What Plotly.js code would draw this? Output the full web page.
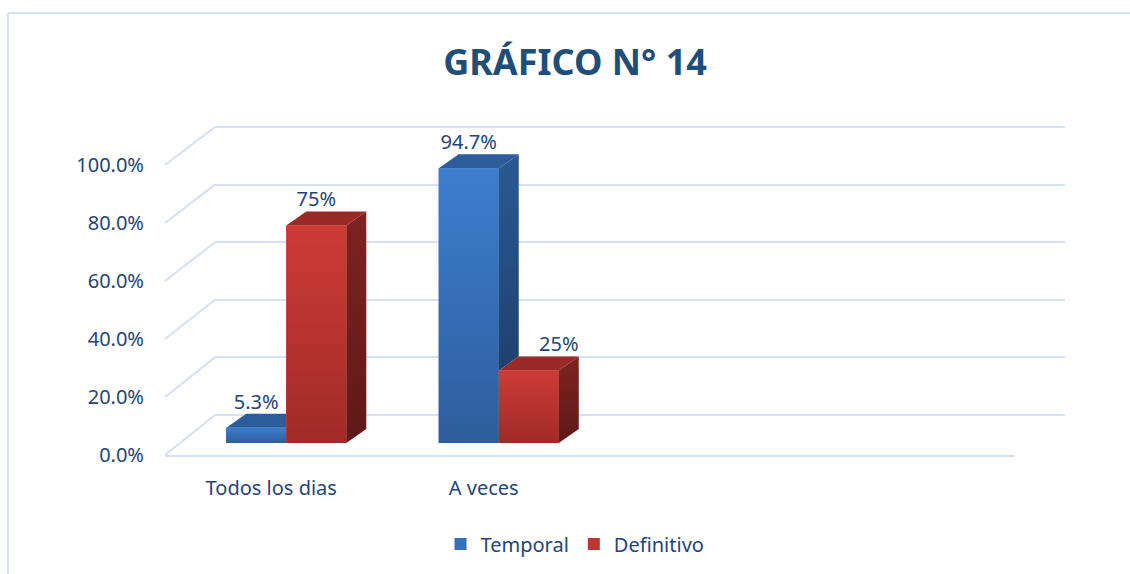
<!DOCTYPE html>
<html><head><meta charset="utf-8">
<script src="https://cdn.plot.ly/plotly-3.0.1.min.js"></script>
<style>html,body{margin:0;padding:0;background:#fff;}#chart{width:1130px;height:574px;}</style>
</head><body><div id="chart"></div>
<script>
// ---- data ----
const categories = ["Todos los dias", "A veces"];
const seriesNames = ["Temporal", "Definitivo"];
const temporal = [5.3, 94.7];
const definitivo = [75, 25];
const temporalLabels = ["5.3%", "94.7%"];
const definitivoLabels = ["75%", "25%"];
const yTickVals = [0, 20, 40, 60, 80, 100];
const yTickText = ["0.0%", "20.0%", "40.0%", "60.0%", "80.0%", "100.0%"];

// ---- geometry / style ----
const W = 1130, H = 574;
const fx = p => p / W, fy = p => (H - p) / H;
const FRONT = {x0: 165, x1: 1015, y0: 455, y100: 165};
const BACK = {x0: 215, x1: 1065, y0: 415, y100: 127};
const BAR = {xshift: 15, y0: 443, pxPerUnit: 2.9, yMax: 112};
const nSlots = 4;
const slotPx = (FRONT.x1 - FRONT.x0) / nSlots;
const barGap = 0.435;
const halfW = (1 - barGap) / 2;           // one bar width in x-units
const dX = 20 / slotPx;                   // depth offset in x-units
const dY = 14 / BAR.pxPerUnit;            // depth offset in y-units
const gridCol = "#D5E0F0";
const txtCol = "#24457A";
const blue = {front: "#3670B9", fTop: "#3D7ECF", fBot: "#2E5D9C", side: "#244C7E", sTop: "#2A5A93", sBot: "#1F416E", top: "#2C5D9A"};
const red = {front: "#BC3531", fTop: "#CE3B36", fBot: "#A02B28", side: "#6F1E1D", sTop: "#7E2321", sBot: "#5E1918", top: "#992A27"};
const font = "Noto Sans, Open Sans, sans-serif";

const traces = [];
const xs = categories.map((c, i) => i);

// dummy traces so the front-plane and back-wall subplots are drawn (back wall first = lowest)
traces.push({type: "scatter", mode: "lines", x: [-0.5, nSlots - 0.5], y: [0, 0], xaxis: "x", yaxis: "y",
  line: {width: 0}, showlegend: false, hoverinfo: "skip"});
traces.push({type: "scatter", mode: "lines", x: [0, 1], y: [0, 0], xaxis: "x2", yaxis: "y2",
  line: {width: 0}, showlegend: false, hoverinfo: "skip"});

// front faces (bars)
traces.push({type: "bar", name: seriesNames[0], x: xs, y: temporal, xaxis: "x3", yaxis: "y3",
  marker: {color: blue.front}, hoverinfo: "skip"});
traces.push({type: "bar", name: seriesNames[1], x: xs, y: definitivo, xaxis: "x3", yaxis: "y3",
  marker: {color: red.front}, hoverinfo: "skip"});

function poly(px, py, color, grad) {
  const t = {type: "scatter", mode: "lines", x: px.concat([px[0]]), y: py.concat([py[0]]),
    fill: "toself", fillcolor: color, line: {width: 0, color: color},
    xaxis: "x3", yaxis: "y3", showlegend: false, hoverinfo: "skip"};
  if (grad) t.fillgradient = {type: "vertical", colorscale: [[0, grad[0]], [1, grad[1]]]};
  traces.push(t);
}
xs.forEach(i => {
  const vb = temporal[i], vr = definitivo[i];
  const c = i;
  // blue side face (only the part not hidden by the red bar)
  if (vb > vr) {
    poly([c, c + dX, c + dX, c], [vr, vr + dY, vb + dY, vb], blue.side, [blue.sBot, blue.sTop]);
  }
  // blue top face (clipped at red front if red is taller)
  const rightX = vb > vr ? c + dX : c;
  poly([c - halfW, c - halfW + dX, rightX, c], [vb, vb + dY, vb + dY, vb], blue.top);
  // blue front with gradient
  poly([c - halfW, c, c, c - halfW], [0, 0, vb, vb], blue.front, [blue.fBot, blue.fTop]);
  // red side face
  poly([c + halfW, c + halfW + dX, c + halfW + dX, c + halfW], [0, dY, vr + dY, vr], red.side, [red.sBot, red.sTop]);
  // red top face
  poly([c, c + dX, c + halfW + dX, c + halfW], [vr, vr + dY, vr + dY, vr], red.top);
  // red front with gradient
  poly([c, c + halfW, c + halfW, c], [0, 0, vr, vr], red.front, [red.fBot, red.fTop]);
});

// data labels (red label moves right of the blue side face when the blue bar is taller)
traces.push({type: "scatter", mode: "text", x: xs.map(i => i - halfW / 2), y: temporal.map(v => v + dY),
  text: temporalLabels, textposition: "top center", textfont: {family: font, size: 20, color: txtCol},
  xaxis: "x3", yaxis: "y3", showlegend: false, hoverinfo: "skip", cliponaxis: false});
traces.push({type: "scatter", mode: "text",
  x: xs.map(i => i + halfW / 2 + (temporal[i] > definitivo[i] ? 1.5 * dX : 0)), y: definitivo.map(v => v + dY),
  text: definitivoLabels, textposition: "top center", textfont: {family: font, size: 20, color: txtCol},
  xaxis: "x3", yaxis: "y3", showlegend: false, hoverinfo: "skip", cliponaxis: false});

// decorative shapes: chart border and left-wall diagonals
const shapes = [
  {type: "line", xref: "paper", yref: "paper", x0: fx(8), y0: fy(575), x1: fx(8), y1: fy(13), line: {color: gridCol, width: 2}},
  {type: "line", xref: "paper", yref: "paper", x0: fx(8), y0: fy(13), x1: fx(1131), y1: fy(13), line: {color: gridCol, width: 2}}
];
yTickVals.forEach(v => {
  const yf = FRONT.y0 - (FRONT.y0 - FRONT.y100) * v / 100;
  const yb = BACK.y0 - (BACK.y0 - BACK.y100) * v / 100;
  shapes.push({type: "line", xref: "paper", yref: "paper", x0: fx(FRONT.x0), y0: fy(yf), x1: fx(BACK.x0), y1: fy(yb),
    line: {color: gridCol, width: 2}, layer: "below"});
});

const backPx = (BACK.y0 - BACK.y100) / 100;
const layout = {
  width: W, height: H, margin: {l: 0, r: 0, t: 0, b: 0},
  paper_bgcolor: "#fff", plot_bgcolor: "rgba(0,0,0,0)",
  font: {family: font, color: txtCol, size: 20},
  title: {text: "<b>GRÁFICO N° 14</b>", font: {family: font, size: 36, color: "#1F4E79"},
    x: fx(575), xanchor: "center", y: fy(62), yanchor: "middle"},
  barmode: "group", bargap: barGap, bargroupgap: 0,
  showlegend: true,
  legend: {orientation: "h", x: fx(575), xanchor: "center", y: fy(544), yanchor: "middle",
    font: {family: font, size: 20, color: txtCol}, itemwidth: 30, traceorder: "normal"},
  // front plane: category labels and value ticks
  xaxis: {domain: [fx(FRONT.x0), fx(FRONT.x1)], range: [-0.5, nSlots - 0.5], tickvals: xs, ticktext: categories,
    showgrid: false, zeroline: false, showline: true, linecolor: gridCol, linewidth: 2, ticks: "",
    ticklabelstandoff: 14, anchor: "y", fixedrange: true},
  yaxis: {domain: [fy(FRONT.y0), fy(FRONT.y100)], range: [0, 100], tickvals: yTickVals, ticktext: yTickText,
    showgrid: false, zeroline: false, showline: false, ticks: "", ticklabelstandoff: 20, anchor: "x", fixedrange: true},
  // back wall gridlines
  xaxis2: {domain: [fx(BACK.x0), fx(BACK.x1)], range: [0, 1], visible: false, anchor: "y2", fixedrange: true},
  yaxis2: {domain: [fy(BACK.y0 + 2 * backPx), fy(BACK.y100 - 2 * backPx)], range: [-2, 102], tickvals: yTickVals,
    showticklabels: false, showgrid: true, gridcolor: gridCol, gridwidth: 2, zeroline: false,
    showline: false, ticks: "", anchor: "x2", fixedrange: true},
  // bars plane
  xaxis3: {domain: [fx(FRONT.x0 + BAR.xshift), fx(FRONT.x1 + BAR.xshift)], range: [-0.5, nSlots - 0.5],
    visible: false, anchor: "y3", fixedrange: true},
  yaxis3: {domain: [fy(BAR.y0), fy(BAR.y0 - BAR.pxPerUnit * BAR.yMax)], range: [0, BAR.yMax],
    visible: false, anchor: "x3", fixedrange: true},
  shapes: shapes
};

Plotly.newPlot("chart", traces, layout, {displayModeBar: false, staticPlot: true});
</script></body></html>
